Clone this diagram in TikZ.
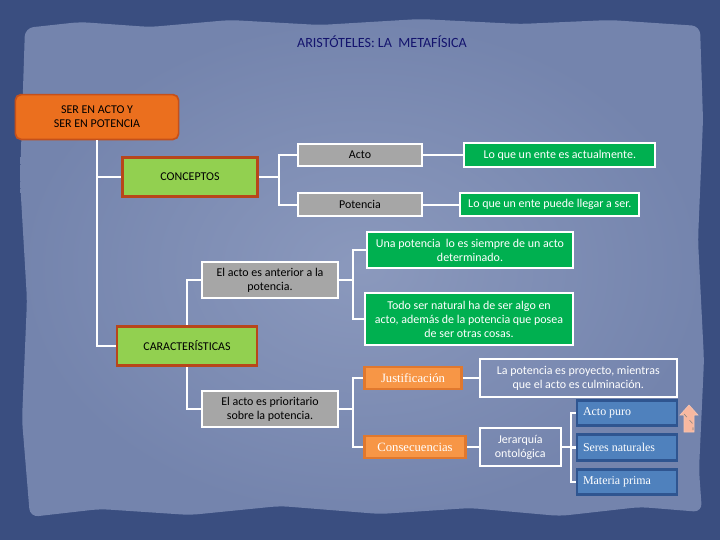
\documentclass[tikz,border=0pt]{standalone}
\usepackage{fontspec}
\setmainfont{Carlito}
\newfontfamily\cambria{Liberation Serif}
\usepackage{tikz}
\usetikzlibrary{positioning}
\definecolor{edgeblue}{HTML}{3A4E80}
\definecolor{paperin}{HTML}{8B99BD}
\definecolor{paperout}{HTML}{7484AD}
\definecolor{titlenavy}{HTML}{14146E}
\definecolor{rootorange}{HTML}{EB6F1E}
\definecolor{rootedge}{HTML}{C4501B}
\definecolor{conceptgreen}{HTML}{92D050}
\definecolor{conceptedge}{HTML}{B8461A}
\definecolor{termgray}{HTML}{A6A6A6}
\definecolor{defgreen}{HTML}{00B050}
\definecolor{linkorange}{HTML}{F79646}
\definecolor{linkedge}{HTML}{E0782E}
\definecolor{levelblue}{HTML}{4F81BD}
\definecolor{leveledge}{HTML}{2F5590}
\definecolor{arrowpink}{HTML}{F8B8A0}

\begin{document}
\begin{tikzpicture}[
  x=0.025cm, y=-0.025cm,
  font=\fontsize{8.5}{10}\selectfont,
  root/.style={rectangle, rounded corners=4pt, draw=rootedge, line width=1.2pt, fill=rootorange, minimum width=4.08cm, minimum height=1.12cm, align=center, inner sep=1pt},
  concept/.style={rectangle, draw=conceptedge, line width=2pt, fill=conceptgreen, minimum height=0.98cm, inner sep=1pt},
  term/.style={rectangle, draw=white, line width=1.5pt, fill=termgray, align=center, inner sep=1pt},
  defbox/.style={rectangle, draw=white, line width=1.5pt, fill=defgreen, text=white, align=center, inner sep=1pt},
  linkbox/.style={rectangle, draw=linkedge, line width=2pt, fill=linkorange, text=white, font=\cambria\fontsize{9}{10}\selectfont, minimum height=0.55cm, inner sep=1pt},
  plainbox/.style={rectangle, draw=white, line width=1.5pt, text=white, align=center, inner sep=1pt},
  level/.style={rectangle, draw=leveledge, line width=2pt, fill=levelblue, text=white, font=\cambria\fontsize{8.5}{10}\selectfont, text width=2.2cm, inner xsep=0.15cm, minimum height=0.64cm, align=flush left},
  link/.style={draw=white, line width=1.6pt}
]
\useasboundingbox (0,0) rectangle (720,540);
% background and torn paper
\fill[edgeblue] (0,0) rectangle (720,540);
\shade[inner color=paperin, outer color=paperout, rounded corners=6pt]
  (25,28) -- (80,22) -- (150,27) -- (230,20) -- (320,25) -- (420,19) -- (520,24) -- (610,20) -- (700,26)
  -- (703,120) -- (698,240) -- (704,360) -- (699,470) -- (702,512)
  -- (640,507) -- (560,516) -- (470,508) -- (380,514) -- (280,506) -- (190,515) -- (100,509) -- (30,517)
  -- (22,420) -- (27,300) -- (20,180) -- cycle;

\node[font=\fontsize{10}{12}\selectfont, text=titlenavy] (title) at (382,42) {ARISTÓTELES: LA\ \ METAFÍSICA};

\node[root] (root) at (97,117) {SER EN ACTO Y\\SER EN POTENCIA};
\node[concept, minimum width=3.38cm] (conceptos) at (190,177) {CONCEPTOS};
\node[term, minimum width=3.1cm, minimum height=0.57cm] (acto) at (360,155) {Acto};
\node[term, minimum width=3.1cm, minimum height=0.57cm, below=0.62cm of acto] (potencia) {Potencia};
\node[defbox, minimum width=4.78cm, minimum height=0.6cm, right=1cm of acto] (actodef) {Lo que un ente es actualmente.};
\node[defbox, minimum width=4.48cm, minimum height=0.57cm, right=0.9cm of potencia] (potdef) {Lo que un ente puede llegar a ser.};

\node[concept, minimum width=3.5cm] (caract) at (187,346) {CARACTERÍSTICAS};
\node[term, minimum width=3.4cm, minimum height=0.92cm] (anterior) at (270,280) {El acto es anterior a la\\potencia.};
\node[term, minimum width=3.4cm, minimum height=0.92cm] (prioritario) at (270,409) {El acto es prioritario\\sobre la potencia.};
\node[defbox, minimum width=5.15cm, minimum height=0.9cm] (unapot) at (470,250) {Una potencia\ \ lo es siempre de un acto\\determinado.};
\node[defbox, minimum width=5.2cm, minimum height=1.3cm] (todoser) at (469,319) {Todo ser natural ha de ser algo en\\acto, además de la potencia que posea\\de ser otras cosas.};

\node[linkbox, minimum width=2.42cm] (justif) at (413,378) {Justificación};
\node[linkbox, minimum width=2.52cm] (consec) at (415,447) {Consecuencias};
\node[plainbox, minimum width=4.92cm, minimum height=0.95cm, right=0.4cm of justif] (proyecto) {La potencia es proyecto, mientras\\que el acto es culminación.};
\node[plainbox, minimum width=2.02cm, minimum height=0.95cm, right=0.3cm of consec] (jerarquia) {Jerarquía\\ontológica};
\node[level] (seres) at (627,447.5) {Seres naturales};
\node[level, above=0.15cm of seres] (actopuro) {Acto puro};
\node[level, below=0.15cm of seres] (materia) {Materia prima};

% pink up arrow
\filldraw[fill=arrowpink, draw=arrowpink!80!white] (689,405) -- (698,415) -- (694,415) -- (694,432) -- (684,432) -- (684,415) -- (680,415) -- cycle;
\draw[gray, dashed, line width=0.4pt] (684,414) -- (693,424) -- (693,430);

\draw[link] (root.south) |- (conceptos.west);
\draw[link] (root.south) |- (caract.west);
\draw[link] (conceptos.east) -- ++(20,0) |- (acto.west);
\draw[link] (conceptos.east) -- ++(20,0) |- (potencia.west);
\draw[link] (acto) -- (actodef);
\draw[link] (potencia) -- (potdef);
\draw[link] (caract.north) |- (anterior.west);
\draw[link] (caract.south) |- (prioritario.west);
\draw[link] (anterior.east) -- ++(14,0) |- (unapot.west);
\draw[link] (anterior.east) -- ++(14,0) |- (todoser.west);
\draw[link] (prioritario.east) -- ++(14,0) |- (justif.west);
\draw[link] (prioritario.east) -- ++(14,0) |- (consec.west);
\draw[link] (justif) -- (proyecto);
\draw[link] (consec) -- (jerarquia);
\draw[link] (jerarquia.east) -- ++(9,0) |- (actopuro.west);
\draw[link] (jerarquia.east) -- ++(9,0) |- (seres.west);
\draw[link] (jerarquia.east) -- ++(9,0) |- (materia.west);
\end{tikzpicture}
\end{document}
